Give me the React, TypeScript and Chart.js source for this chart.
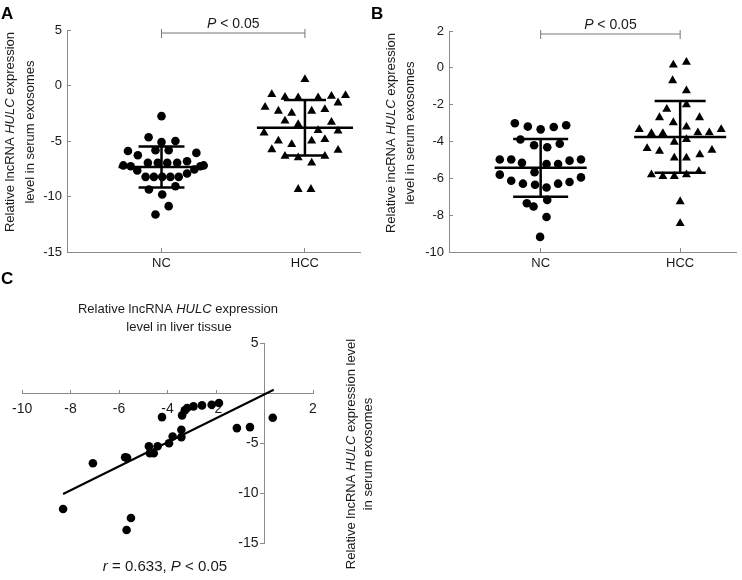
import React, { useEffect, useRef } from 'react';
import { Chart, registerables } from 'chart.js';

Chart.register(...registerables);

const FONT = '"Liberation Sans", Arial, sans-serif';
const AXIS = '#8a8a8a';
const INK = '#1a1a1a';

// ---------- shared ----------
const groupLabels = ['NC', 'HCC'];

// ---------- Panel A (serum exosomes, y ticks -15..5) ----------
const aYTicks = [5, 0, -5, -10, -15];
const aNcValues = [-2.76, -4.66, -5.1, -5.0, -5.9, -6.28, -5.83, -5.83, -6.07, -7.2, -7.27, -7.66, -6.97, -6.97, -6.97, -6.97, -6.82, -7.57, -7.27, -7.2, -8.23, -8.23, -8.23, -8.23, -8.23, -7.93, -9.37, -9.07, -9.82, -10.87, -11.62];
const aNcJitter = [0, -0.09, 0, 0.097, -0.234, -0.165, -0.042, 0.05, 0.243, -0.266, -0.215, -0.169, -0.095, -0.026, 0.04, 0.109, 0.178, 0.229, 0.271, 0.294, -0.111, -0.053, 0.005, 0.062, 0.12, 0.178, -0.088, 0.097, 0.005, 0.05, -0.042];
const aHccValues = [0.54, -0.81, -1.05, -1.1, -1.1, -0.96, -0.9, -1.56, -1.95, -2.3, -2.5, -2.3, -2.16, -3.2, -3.5, -3.3, -4.26, -5.0, -5.3, -5.0, -4.86, -4.05, -4.1, -5.77, -6.37, -6.5, -6.97, -6.37, -5.83, -9.35, -9.35];
const aHccJitter = [0, -0.231, -0.139, -0.047, 0.092, 0.185, 0.283, 0.231, -0.278, -0.185, -0.092, 0.047, 0.139, -0.139, -0.047, 0.185, -0.285, -0.185, -0.092, 0.047, 0.139, 0.092, 0.231, -0.231, -0.139, -0.047, 0.047, 0.139, 0.231, -0.047, 0.042];
const aMeans = [-7.35, -3.8];
const aSDs = [1.85, 2.5];

// ---------- Panel B (serum exosomes, y ticks -10..2) ----------
const bYTicks = [2, 0, -2, -4, -6, -8, -10];
const bNcValues = [-3.01, -3.19, -3.34, -3.21, -3.12, -3.89, -4.2, -4.31, -4.12, -4.98, -4.98, -5.16, -5.22, -5.22, -5.04, -4.98, -5.67, -5.8, -6.13, -6.29, -6.35, -6.5, -6.29, -6.2, -5.95, -7.35, -7.53, -7.17, -8.1, -9.18];
const bNcJitter = [-0.185, -0.092, 0, 0.094, 0.183, -0.145, -0.047, 0.047, 0.137, -0.293, -0.211, -0.134, 0.042, 0.125, 0.207, 0.289, -0.044, -0.293, -0.211, -0.127, -0.04, 0.042, 0.125, 0.207, 0.289, -0.099, -0.051, 0.047, 0.042, -0.004];
const bHccValues = [0.16, 0.31, -0.69, -1.24, -2.0, -2.24, -2.7, -2.97, -2.7, -3.21, -3.34, -3.56, -3.56, -3.52, -3.52, -3.34, -4.03, -3.89, -4.38, -4.53, -4.47, -4.71, -4.89, -4.89, -5.8, -5.89, -5.89, -5.8, -5.62, -7.26, -8.45];
const bHccJitter = [-0.049, 0.045, -0.054, 0.045, 0.045, -0.096, -0.148, -0.049, 0.139, 0.045, -0.293, -0.206, -0.124, 0.127, 0.209, 0.294, -0.042, 0.045, -0.237, -0.148, 0.228, 0.141, -0.042, 0.045, -0.206, -0.124, -0.042, 0.045, 0.134, 0, 0];
const bMeans = [-5.43, -3.75];
const bSDs = [1.57, 1.95];

// ---------- Panel C (correlation) ----------
const cXTicks = [-10, -8, -6, -4, -2, 0, 2];
const cYTicks = [5, 0, -5, -10, -15];
const cTissue = [-8.31, -7.08, -5.75, -5.67, -5.69, -5.51, -4.77, -4.73, -4.57, -4.41, -4.23, -3.94, -3.79, -3.43, -3.43, -3.4, -3.29, -3.19, -2.93, -2.58, -2.18, -1.88, -1.14, -0.6, 0.34];
const cSerum = [-11.6, -7.02, -6.42, -6.49, -13.7, -12.5, -5.32, -6.02, -6.02, -5.32, -2.41, -5.02, -4.35, -4.41, -3.68, -2.24, -1.74, -1.5, -1.34, -1.24, -1.17, -1.0, -3.51, -3.41, -2.47];
const cFitSlope = 1.2;
const cFitIntercept = -0.13;
const cFitRange = [-8.31, 0.38];

type Part = [string, boolean];

function drawRich(ctx: CanvasRenderingContext2D, parts: Part[], x: number, y: number, size: number, rotate = false) {
  ctx.save();
  ctx.translate(x, y);
  if (rotate) ctx.rotate(-Math.PI / 2);
  ctx.textBaseline = 'alphabetic';
  ctx.textAlign = 'left';
  ctx.fillStyle = INK;
  const f = (it: boolean) => `${it ? 'italic ' : ''}${size}px ${FONT}`;
  let total = 0;
  for (const [t, it] of parts) { ctx.font = f(it); total += ctx.measureText(t).width; }
  let cx = -total / 2;
  for (const [t, it] of parts) { ctx.font = f(it); ctx.fillText(t, cx, 0); cx += ctx.measureText(t).width; }
  ctx.restore();
}

function drawLetter(ctx: CanvasRenderingContext2D, t: string, x: number, y: number) {
  ctx.save();
  ctx.font = `bold 17px ${FONT}`;
  ctx.fillStyle = '#000';
  ctx.textBaseline = 'alphabetic';
  ctx.textAlign = 'left';
  ctx.fillText(t, x, y);
  ctx.restore();
}

function toPoints(values: number[], jitter: number[], center: number) {
  return values.map((v, i) => ({ x: center + jitter[i], y: v }));
}

function ticksFrom(list: number[]) {
  return (s: any) => { s.ticks = list.map((value) => ({ value })); };
}

const Y_BOX = 40;
const X_BOX = 30;

function dotScales(xMin: number, xMax: number, yTicks: number[]) {
  return {
    x: {
      type: 'linear', min: xMin, max: xMax,
      afterFit: (s: any) => { s.height = X_BOX; },
      afterBuildTicks: ticksFrom(groupLabels.map((_, i) => i + 1)),
      ticks: { font: { family: FONT, size: 13 }, color: INK, padding: 8, autoSkip: false, maxRotation: 0, callback: (v: any) => groupLabels[Math.round(v) - 1] ?? '' },
      grid: { drawOnChartArea: false, tickLength: -4, color: AXIS, lineWidth: 1 },
      border: { color: AXIS, width: 1 },
    },
    y: {
      type: 'linear', min: Math.min(...yTicks), max: Math.max(...yTicks),
      afterFit: (s: any) => { s.width = Y_BOX; },
      afterBuildTicks: ticksFrom(yTicks),
      ticks: { font: { family: FONT, size: 13 }, color: INK, padding: 9, autoSkip: false, callback: (v: any) => String(v) },
      grid: { drawOnChartArea: false, tickLength: -4, color: AXIS, lineWidth: 1 },
      border: { color: AXIS, width: 1 },
    },
  };
}

function errorBars(means: number[], sds: number[], halfMean: number[], halfCap: number[]) {
  return {
    id: 'errorBars',
    afterDatasetsDraw(chart: any) {
      const { ctx, scales } = chart;
      const xs = scales.x, ys = scales.y;
      ctx.save();
      ctx.strokeStyle = '#000';
      ctx.lineWidth = 2.5;
      means.forEach((m, i) => {
        const c = i + 1;
        const line = (x1: number, y1: number, x2: number, y2: number) => {
          ctx.beginPath();
          ctx.moveTo(xs.getPixelForValue(x1), ys.getPixelForValue(y1));
          ctx.lineTo(xs.getPixelForValue(x2), ys.getPixelForValue(y2));
          ctx.stroke();
        };
        line(c - halfMean[i], m, c + halfMean[i], m);
        line(c, m + sds[i], c, m - sds[i]);
        line(c - halfCap[i], m + sds[i], c + halfCap[i], m + sds[i]);
        line(c - halfCap[i], m - sds[i], c + halfCap[i], m - sds[i]);
      });
      ctx.restore();
    },
  };
}

function bracket(letter: string, letterX: number, titleLines: Part[][], titleX: number[], titleY: number) {
  return {
    id: 'annot',
    afterDraw(chart: any) {
      const { ctx, scales, chartArea } = chart;
      const x1 = scales.x.getPixelForValue(1);
      const x2 = scales.x.getPixelForValue(2);
      const yb = chartArea.top + 3;
      ctx.save();
      ctx.strokeStyle = '#777';
      ctx.lineWidth = 1;
      ctx.beginPath();
      ctx.moveTo(x1, yb); ctx.lineTo(x2, yb);
      ctx.moveTo(x1, yb - 4); ctx.lineTo(x1, yb + 5);
      ctx.moveTo(x2, yb - 4); ctx.lineTo(x2, yb + 5);
      ctx.stroke();
      ctx.restore();
      drawRich(ctx, [['P', true], [' < 0.05', false]], (x1 + x2) / 2, yb - 5, 14);
      drawLetter(ctx, letter, letterX, 19);
      titleLines.forEach((parts, i) => drawRich(ctx, parts, titleX[i], titleY, 13, true));
    },
  };
}

const baseOptions = {
  responsive: false,
  animation: false,
  devicePixelRatio: 1,
  events: [],
  plugins: { legend: { display: false }, tooltip: { enabled: false } },
};

function buildA() {
  return {
    type: 'scatter',
    data: {
      datasets: [
        { data: toPoints(aNcValues, aNcJitter, 1), pointStyle: 'circle', pointRadius: 4.3, backgroundColor: '#000', borderColor: '#000', borderWidth: 0 },
        { data: toPoints(aHccValues, aHccJitter, 2), pointStyle: 'triangle', pointRadius: 5.2, backgroundColor: '#000', borderColor: '#000', borderWidth: 0 },
      ],
    },
    options: {
      ...baseOptions,
      layout: { padding: { left: 67 - Y_BOX, top: 30, right: 382, bottom: 328 - X_BOX } },
      scales: dotScales(0.341, 2.384, aYTicks),
    },
    plugins: [
      errorBars(aMeans, aSDs, [0.3, 0.335], [0.16, 0.147]),
      bracket('A', 1, [
        [['Relative lncRNA ', false], ['HULC', true], [' expression', false]],
        [['level in serum exosomes', false]],
      ], [13.5, 34], 132),
    ],
  };
}

function buildB() {
  return {
    type: 'scatter',
    data: {
      datasets: [
        { data: toPoints(bNcValues, bNcJitter, 1), pointStyle: 'circle', pointRadius: 4.3, backgroundColor: '#000', borderColor: '#000', borderWidth: 0 },
        { data: toPoints(bHccValues, bHccJitter, 2), pointStyle: 'triangle', pointRadius: 5.2, backgroundColor: '#000', borderColor: '#000', borderWidth: 0 },
      ],
    },
    options: {
      ...baseOptions,
      layout: { padding: { left: 449 - Y_BOX, top: 31, right: 0, bottom: 328 - X_BOX } },
      scales: dotScales(0.343, 2.406, bYTicks),
    },
    plugins: [
      errorBars(bMeans, bSDs, [0.33, 0.33], [0.197, 0.183]),
      bracket('B', 371, [
        [['Relative incRNA ', false], ['HULC', true], [' expression', false]],
        [['level in serum exosomes', false]],
      ], [395, 413.5], 133),
    ],
  };
}

function buildC() {
  return {
    type: 'scatter',
    data: {
      datasets: [
        { type: 'line', data: cFitRange.map((x) => ({ x, y: cFitSlope * x + cFitIntercept })), borderColor: '#000', borderWidth: 2, pointRadius: 0, fill: false },
        { data: cTissue.map((x, i) => ({ x, y: cSerum[i] })), pointStyle: 'circle', pointRadius: 4.3, backgroundColor: '#000', borderColor: '#000', borderWidth: 0 },
      ],
    },
    options: {
      ...baseOptions,
      layout: { padding: { left: 16, top: 343, right: 429, bottom: 37 } },
      scales: {
        x: {
          type: 'linear', min: -10, max: 2, position: { y: 0 },
          afterFit: (s: any) => { s.height = 0; },
          afterBuildTicks: ticksFrom(cXTicks),
          ticks: { font: { family: FONT, size: 14 }, color: INK, padding: 12, autoSkip: false, maxRotation: 0, callback: (v: any) => (v === 0 ? '' : String(v)) },
          grid: { drawOnChartArea: false, tickLength: -4, color: AXIS },
          border: { color: AXIS, width: 1 },
        },
        y: {
          type: 'linear', min: -15, max: 5, position: { x: 0 },
          afterFit: (s: any) => { s.width = 0; },
          afterBuildTicks: ticksFrom(cYTicks),
          ticks: { display: false },
          grid: { drawOnChartArea: false, tickLength: 4, color: AXIS },
          border: { color: AXIS, width: 1 },
        },
      },
    },
    plugins: [
      {
        id: 'annotC',
        afterDraw(chart: any) {
          const ctx = chart.ctx;
          const ys = chart.scales.y;
          const axisX = chart.scales.x.getPixelForValue(0);
          ctx.save();
          ctx.font = `14px ${FONT}`;
          ctx.fillStyle = INK;
          ctx.textAlign = 'right';
          ctx.textBaseline = 'middle';
          ys.ticks.forEach((t: any) => {
            if (t.value !== 0) ctx.fillText(String(t.value), axisX - 6, ys.getPixelForValue(t.value));
          });
          ctx.restore();
          drawLetter(ctx, 'C', 1, 284);
          drawRich(ctx, [['Relative lncRNA ', false], ['HULC', true], [' expression', false]], 178, 313, 13);
          drawRich(ctx, [['level in liver tissue', false]], 179, 331, 13);
          drawRich(ctx, [['Relative lncRNA ', false], ['HULC', true], [' expression level', false]], 355, 454, 13, true);
          drawRich(ctx, [['in serum exosomes', false]], 372, 454, 13, true);
          drawRich(ctx, [['r', true], [' = 0.633, ', false], ['P', true], [' < 0.05', false]], 165, 571, 15);
        },
      },
    ],
  };
}

function Panel({ build }: { build: () => any }) {
  const ref = useRef<HTMLCanvasElement>(null);
  useEffect(() => {
    const chart = new Chart(ref.current as HTMLCanvasElement, build());
    return () => chart.destroy();
  }, [build]);
  return (
    <canvas
      ref={ref}
      width={742}
      height={580}
      style={{ position: 'absolute', left: 0, top: 0, width: 742, height: 580 }}
    />
  );
}

export default function App() {
  return (
    <div style={{ position: 'fixed', left: 0, top: 0, width: 742, height: 580, background: '#fff', overflow: 'hidden' }}>
      <Panel build={buildA} />
      <Panel build={buildB} />
      <Panel build={buildC} />
    </div>
  );
}
